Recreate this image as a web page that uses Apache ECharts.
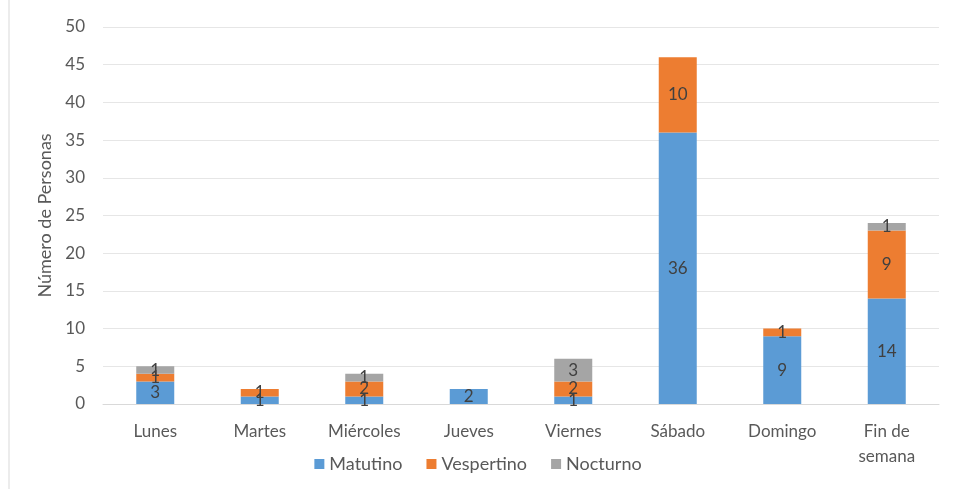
<!DOCTYPE html>
<html>
<head>
<meta charset="utf-8">
<script src="https://cdn.jsdelivr.net/npm/echarts@6/dist/echarts.min.js"></script>
<style>
html, body { margin: 0; padding: 0; background: #fff; }
#chart { width: 956px; height: 489px; }
</style>
</head>
<body>
<div id="chart"></div>
<script>
var dias = ['Lunes', 'Martes', 'Miércoles', 'Jueves', 'Viernes', 'Sábado', 'Domingo', 'Fin de\nsemana'];
var matutino = [3, 1, 1, 2, 1, 36, 9, 14];
var vespertino = [1, 1, 2, 0, 2, 10, 1, 9];
var nocturno = [1, 0, 1, 0, 3, 0, 0, 1];
var yTicks = [0, 50, 5];

function serie(nombre, valores, color) {
	return {
		name: nombre,
		type: 'bar',
		stack: 'total',
		barWidth: 38,
		data: valores,
		itemStyle: { color: color },
		label: {
			show: true,
			position: 'inside',
			color: '#404040',
			fontSize: 17,
			fontFamily: 'Lato',
			formatter: function (p) { return p.value ? p.value : ''; }
		}
	};
}

var mychart = echarts.init(document.getElementById('chart'));
var option = {
	animation: false,
	textStyle: { fontFamily: 'Lato' },
	graphic: [{
		type: 'line',
		shape: { x1: 9, y1: 0, x2: 9, y2: 489 },
		style: { stroke: '#d9d9d9', lineWidth: 1 }
	}],
	grid: { left: 103, right: 17, top: 27, bottom: 85 },
	legend: {
		bottom: 11,
		left: 'center',
		itemWidth: 10,
		itemHeight: 10,
		itemGap: 24,
		icon: 'rect',
		textStyle: { color: '#595959', fontSize: 18, fontFamily: 'Lato' },
		data: ['Matutino', 'Vespertino', 'Nocturno']
	},
	xAxis: {
		type: 'category',
		data: dias,
		axisLine: { lineStyle: { color: '#d9d9d9' } },
		axisTick: { show: false },
		axisLabel: { color: '#595959', fontSize: 17, margin: 15, lineHeight: 25, fontFamily: 'Lato' }
	},
	yAxis: {
		type: 'value',
		min: yTicks[0],
		max: yTicks[1],
		interval: yTicks[2],
		name: 'Número de Personas',
		nameLocation: 'middle',
		nameGap: 47,
		nameTextStyle: { color: '#595959', fontSize: 18, fontFamily: 'Lato' },
		axisLabel: { color: '#595959', fontSize: 17, margin: 18, fontFamily: 'Lato' },
		splitLine: { lineStyle: { color: '#e6e6e6' } }
	},
	series: [
		serie('Matutino', matutino, '#5b9bd5'),
		serie('Vespertino', vespertino, '#ed7d31'),
		serie('Nocturno', nocturno, '#a5a5a5')
	]
};
mychart.setOption(option);
</script>
</body>
</html>
